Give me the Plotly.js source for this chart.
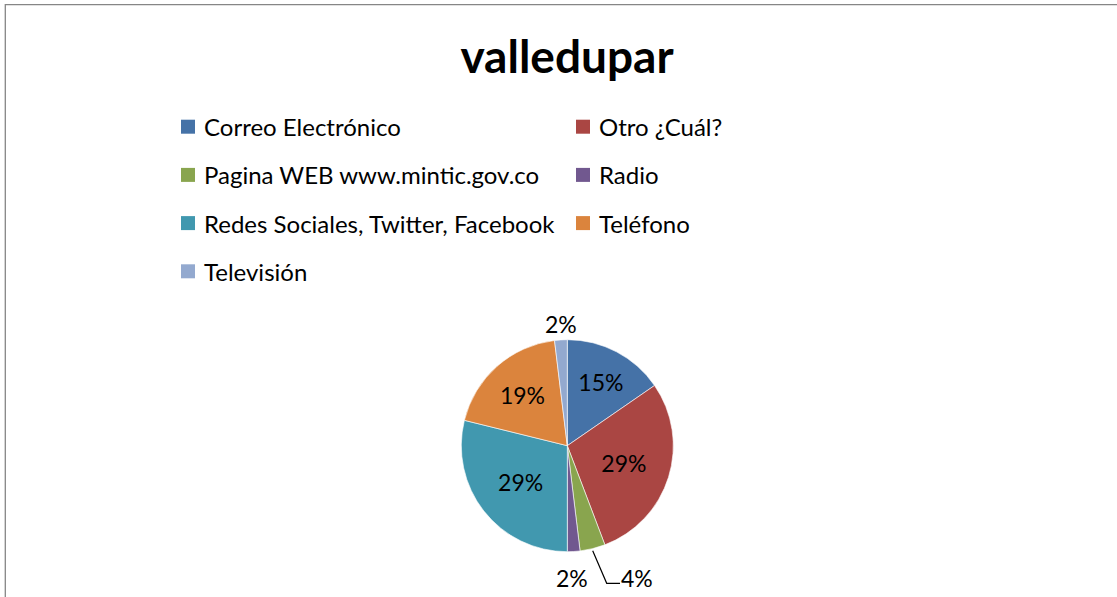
<!DOCTYPE html>
<html>
<head>
<meta charset="utf-8">
<script src="https://cdn.plot.ly/plotly-3.0.1.min.js"></script>
<style>html,body{margin:0;padding:0;background:#fff;}#chart{width:1117px;height:597px;}</style>
</head>
<body>
<div id="chart"></div>
<script>
const chartTitle = "valledupar";
const labels = ["Correo Electrónico", "Otro ¿Cuál?", "Pagina WEB www.mintic.gov.co", "Radio", "Redes Sociales, Twitter, Facebook", "Teléfono", "Televisión"];
const values = [8, 15, 2, 1, 15, 10, 1];
const colors = ["#4572A7", "#AA4643", "#89A54E", "#71588F", "#4198AF", "#DB843D", "#93A9CF"];
const textPositions = ["inside", "inside", "none", "none", "inside", "inside", "none"];

const W = 1117, H = 597;
const FONT = "Lato, 'Open Sans', sans-serif";
const px = x => x / W;
const py = y => 1 - y / H;

const cx = 567.3, cy = 445.7, r = 106;
const total = values.reduce((a, b) => a + b, 0);
const pct = v => Math.round(v / total * 100) + "%";

const trace = {
  type: "pie",
  labels: labels,
  values: values,
  sort: false,
  direction: "clockwise",
  rotation: 0,
  marker: {colors: colors, line: {color: "#ffffff", width: 0.6}},
  texttemplate: "%{percent:.0%}",
  textposition: textPositions,
  insidetextorientation: "horizontal",
  textfont: {family: FONT, size: 23, color: "#000000"},
  showlegend: false,
  hoverinfo: "label+percent",
  domain: {x: [px(cx - r), px(cx + r)], y: [py(cy + r), py(cy - r)]}
};

const annotations = [];
const shapes = [];
// manual legend, two columns, row-major
const colX = [181, 576];
const rowY0 = 126.7, rowStep = 48.2, sq = 14;
labels.forEach((lab, i) => {
  const col = i % 2, row = Math.floor(i / 2);
  const x0 = colX[col], yc = rowY0 + row * rowStep;
  shapes.push({type: "rect", xref: "paper", yref: "paper",
    x0: px(x0), x1: px(x0 + sq), y0: py(yc + sq / 2), y1: py(yc - sq / 2),
    fillcolor: colors[i], line: {width: 0}});
  annotations.push({xref: "paper", yref: "paper", x: px(x0 + sq + 7), y: py(yc),
    xanchor: "left", yanchor: "middle", showarrow: false, text: lab,
    font: {family: FONT, size: 24, color: "#000000"}});
});

// outside labels for the small slices (Pagina, Radio, Televisión)
const outsideLabelPos = {2: [637.2, 577.5], 3: [571.7, 577.5], 6: [560.5, 323.5]};
Object.keys(outsideLabelPos).forEach(k => {
  const [lx, ly] = outsideLabelPos[k];
  annotations.push({xref: "paper", yref: "paper", x: px(lx), y: py(ly),
    xanchor: "center", yanchor: "middle", showarrow: false, text: pct(values[k]),
    font: {family: FONT, size: 23, color: "#000000"}});
});
// leader line for the 4% label
shapes.push({type: "path", xref: "paper", yref: "paper",
  path: `M ${px(592.7)} ${py(550.7)} L ${px(606.7)} ${py(583.3)} L ${px(620)} ${py(583.3)}`,
  line: {color: "#000000", width: 1.2}});

// chart border (top and left)
shapes.push({type: "path", xref: "paper", yref: "paper",
  path: `M ${px(5.3)} 0 L ${px(5.3)} ${py(4.6)} L 1 ${py(4.6)}`,
  line: {color: "#868686", width: 1.3}});

const layout = {
  width: W, height: H,
  margin: {l: 0, r: 0, t: 0, b: 0},
  paper_bgcolor: "#ffffff",
  title: {text: "<b>" + chartTitle + "</b>", x: px(567), xanchor: "center", y: py(57), yanchor: "middle",
    font: {family: FONT, size: 46, color: "#000000"}},
  annotations: annotations,
  shapes: shapes
};

Plotly.newPlot("chart", [trace], layout, {displayModeBar: false, staticPlot: true});
</script>
</body>
</html>
